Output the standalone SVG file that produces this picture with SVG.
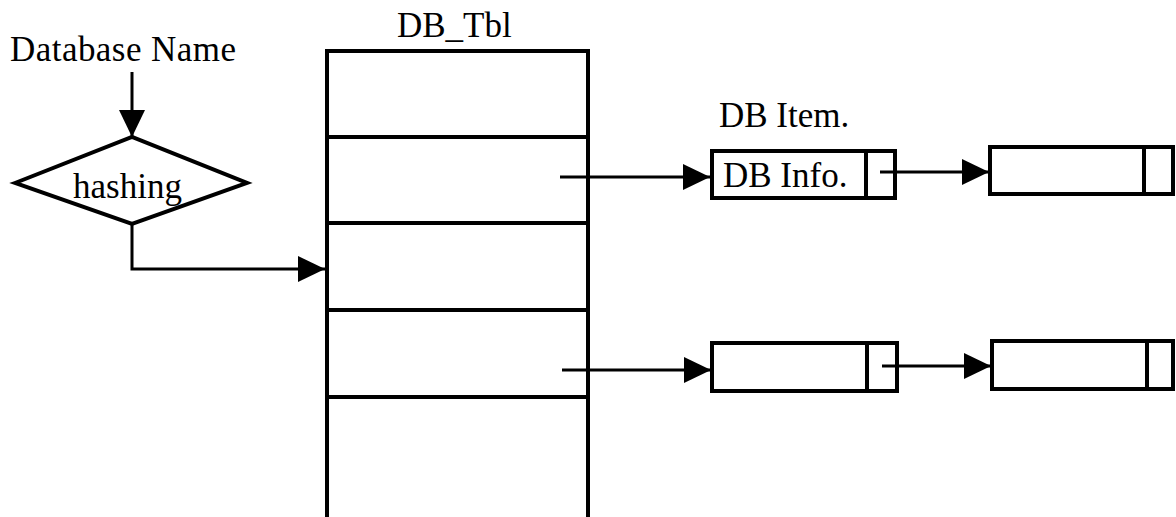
<svg xmlns="http://www.w3.org/2000/svg" width="1176" height="517" viewBox="0 0 1176 517">
  <style>
    .bg { fill: #ffffff; }
    .shape { fill: #ffffff; stroke: #000000; stroke-width: 4; }
    .div { fill: none; stroke: #000000; stroke-width: 4; }
    .link { fill: none; stroke: #000000; stroke-width: 3; marker-end: url(#head); }
    .lbl { font-family: "Liberation Serif", "Times New Roman", serif; font-size: 35px; fill: #000000; }
  </style>
  <defs>
    <marker id="head" markerUnits="userSpaceOnUse" markerWidth="28" markerHeight="28" refX="27" refY="13" orient="auto">
      <path d="M0,0 L27,13 L0,26 z" fill="#000000"/>
    </marker>
  </defs>
  <rect class="bg" x="0" y="0" width="1176" height="517"/>

  <!-- input label -->
  <g id="db-name">
    <text class="lbl" x="10" y="61" textLength="226">Database Name</text>
  </g>

  <!-- hashing decision -->
  <g id="hashing">
    <polygon class="shape" points="15,183 132,137 247,183 132,224"/>
    <text class="lbl" x="73" y="198">hashing</text>
  </g>

  <!-- hash table -->
  <g id="db-tbl">
    <text class="lbl" x="397" y="37">DB_Tbl</text>
    <path class="div" d="M327,519 L327,51 L588,51 L588,519"/>
    <line class="div" x1="327" y1="137" x2="588" y2="137"/>
    <line class="div" x1="327" y1="223" x2="588" y2="223"/>
    <line class="div" x1="327" y1="310" x2="588" y2="310"/>
    <line class="div" x1="327" y1="397" x2="588" y2="397"/>
  </g>

  <!-- first chain -->
  <g id="db-item-1">
    <text class="lbl" x="719" y="127">DB Item.</text>
    <rect class="shape" x="712" y="151" width="183" height="47"/>
    <line class="div" x1="866" y1="151" x2="866" y2="198"/>
    <text class="lbl" x="723" y="187">DB Info.</text>
  </g>
  <g id="db-item-2">
    <rect class="shape" x="990" y="147" width="183" height="47"/>
    <line class="div" x1="1144" y1="147" x2="1144" y2="194"/>
  </g>

  <!-- second chain -->
  <g id="db-item-3">
    <rect class="shape" x="712" y="343" width="185" height="48"/>
    <line class="div" x1="867" y1="343" x2="867" y2="391"/>
  </g>
  <g id="db-item-4">
    <rect class="shape" x="992" y="341" width="181" height="48"/>
    <line class="div" x1="1147" y1="341" x2="1147" y2="389"/>
  </g>

  <!-- connectors -->
  <g id="connectors">
    <path class="link" d="M132,72 L132,137"/>
    <path class="link" d="M132,224 L132,269 L325,269"/>
    <path class="link" d="M560,177 L710,177"/>
    <path class="link" d="M880,172 L989,172"/>
    <path class="link" d="M562,370 L711,370"/>
    <path class="link" d="M882,366 L991,366"/>
  </g>
</svg>
